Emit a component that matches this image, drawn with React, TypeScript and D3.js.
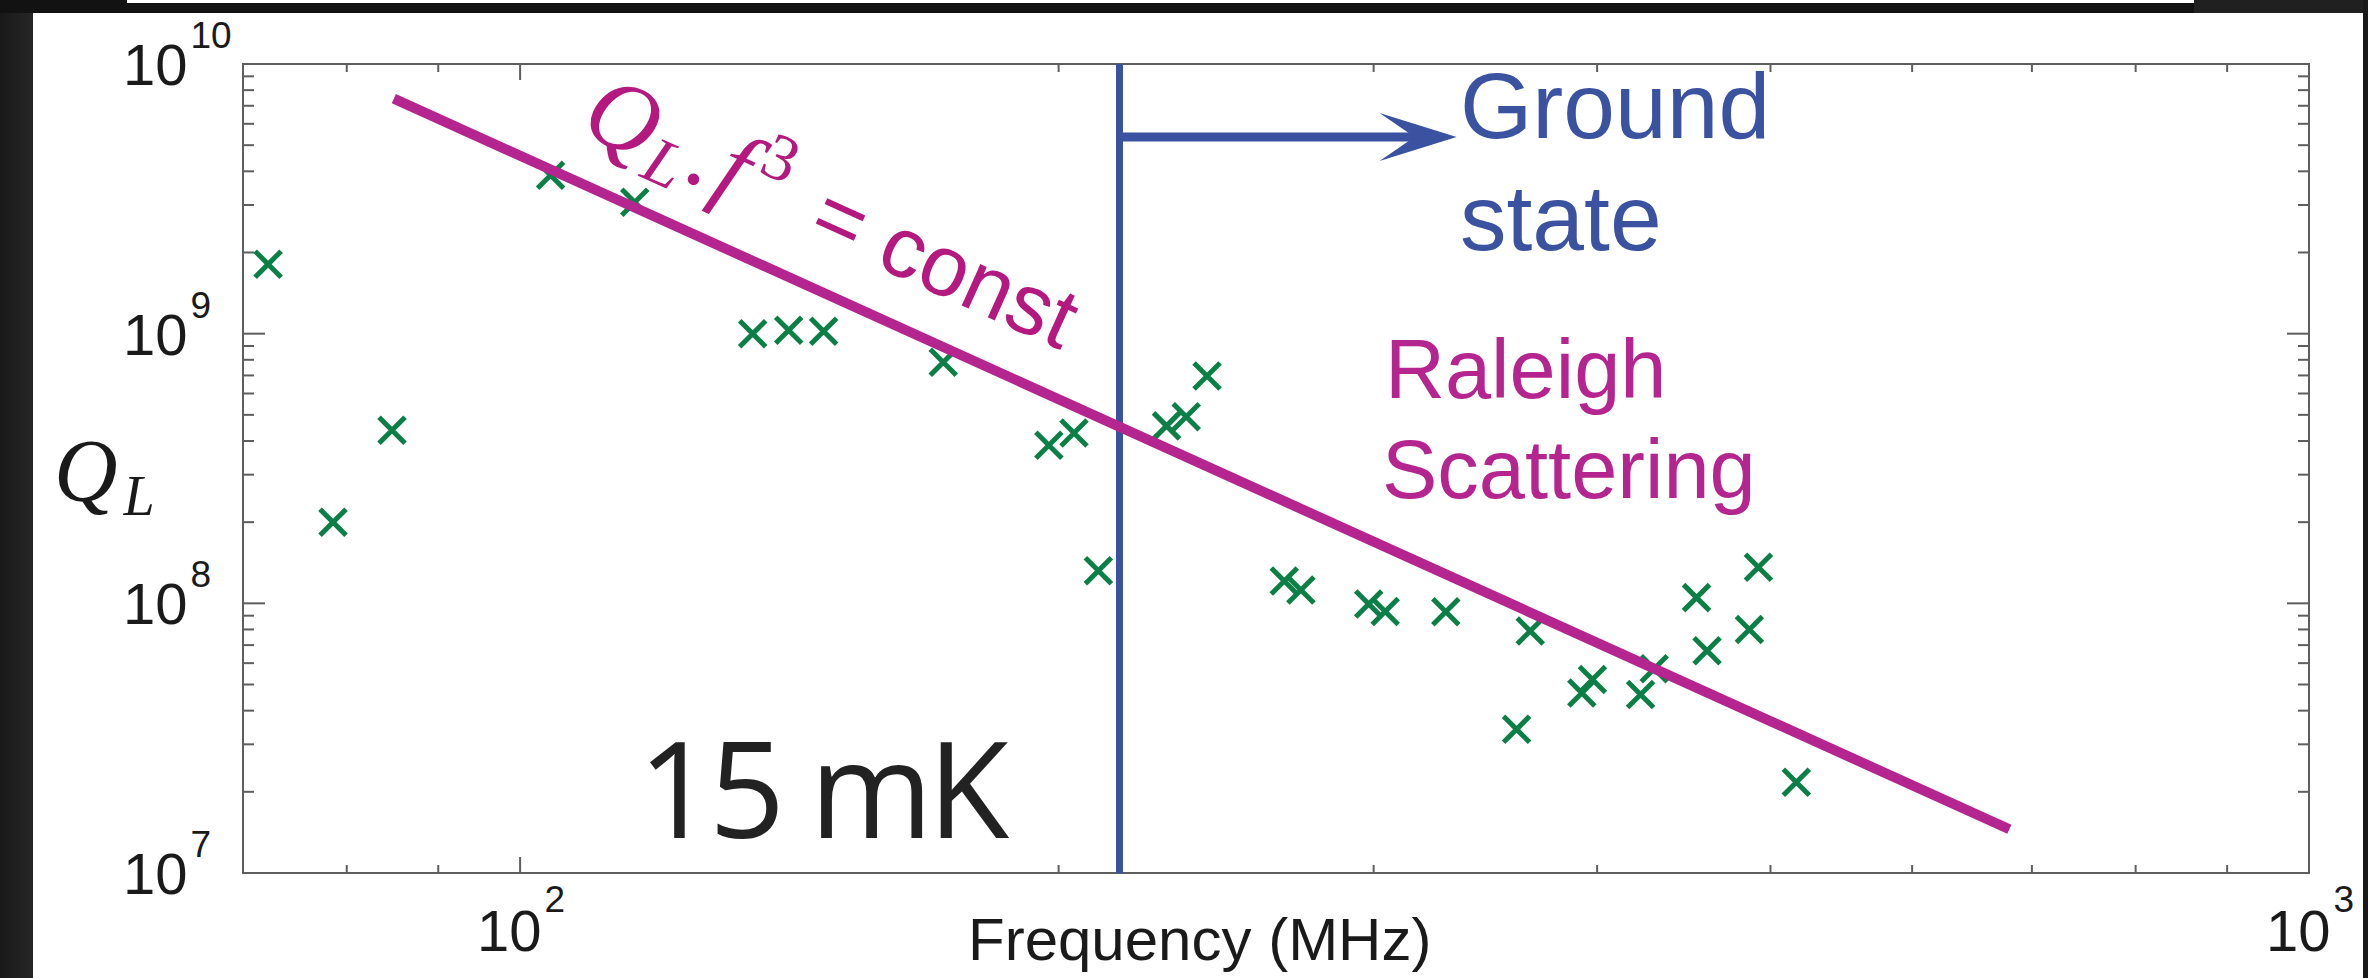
import { useEffect, useRef } from 'react'
import * as d3 from 'd3'

// measured resonators: frequency (MHz) and loaded quality factor
const freqMHz = [72.3, 78.6, 84.8, 104, 115.9, 134.9, 141.3, 147.8, 172.4, 197.5, 204, 210.5, 229.8, 235.7, 242.1, 267.4, 273.2, 298.1, 304.5, 329.2, 360.6, 367, 392.2, 397.6, 423, 430.5, 454.6, 460.8, 486.6, 492.3, 516.9]
const qLoaded = [1.81e9, 2.0e8, 4.38e8, 3.87e9, 3.07e9, 1.0e9, 1.03e9, 1.02e9, 7.83e8, 3.86e8, 4.28e8, 1.32e8, 4.55e8, 4.92e8, 6.97e8, 1.21e8, 1.12e8, 9.95e7, 9.33e7, 9.3e7, 3.41e7, 7.89e7, 4.65e7, 5.22e7, 4.59e7, 5.72e7, 1.05e8, 6.67e7, 8.0e7, 1.36e8, 2.17e7]

// Q_L * f^3 = const guide line
const fitFreqs = [85, 680]
const fitConst = 4.57e15

// ground state boundary and arrow
const groundFreq = 216.3
const arrowQ = 5.36e9
const arrowTipFreq = 333.8

const xDomain = [70, 1000]
const yDomain = [1e7, 1e10]
const xLabelExps = [2, 3]
const yLabelExps = [7, 8, 9, 10]

const GREEN = '#0b7f45'
const MAGENTA = '#b5258f'
const BLUE = '#3a52a0'
const SANS = '"Liberation Sans", Arial, Helvetica, sans-serif'
const SERIF = '"Liberation Serif", "Times New Roman", serif'

export default function App() {
  const ref = useRef<SVGSVGElement>(null)

  useEffect(() => {
    if (!ref.current) return
    const svg = d3.select(ref.current)
    svg.selectAll('*').remove()

    const W = 2368
    const H = 978
    const margin = { top: 64, right: 59, bottom: 105, left: 243 }
    const x0 = margin.left, x1 = W - margin.right
    const y0 = H - margin.bottom, y1 = margin.top

    const x = d3.scaleLog().domain(xDomain).range([x0, x1])
    const y = d3.scaleLog().domain(yDomain).range([y0, y1])

    // page + dark screen frame
    svg.append('rect').attr('width', W).attr('height', H).attr('fill', '#fff')
    const grad = svg.append('defs').append('linearGradient').attr('id', 'side')
    grad.append('stop').attr('offset', '0%').attr('stop-color', '#191919')
    grad.append('stop').attr('offset', '100%').attr('stop-color', '#262626')
    svg.append('rect').attr('x', 0).attr('y', 0).attr('width', 33).attr('height', H).attr('fill', 'url(#side)')
    svg.append('rect').attr('x', 0).attr('y', 0).attr('width', W).attr('height', 13).attr('fill', '#121212')
    svg.append('rect').attr('x', 127).attr('y', 0).attr('width', 2194 - 127).attr('height', 3).attr('fill', '#fff')
    svg.append('rect').attr('x', 2194).attr('y', 0).attr('width', W - 2194).attr('height', 13).attr('fill', '#202020')
    svg.append('rect').attr('x', 2363).attr('y', 0).attr('width', 5).attr('height', H).attr('fill', '#1a1a1a')

    // ticks on all four sides
    const axisColor = '#5e5e5e'
    const ticks = svg.append('g').attr('stroke', axisColor).attr('stroke-width', 2)
    const isMajor = (v: number) => Math.abs(Math.log10(v) - Math.round(Math.log10(v))) < 1e-6
    x.ticks().forEach(v => {
      const len = isMajor(v) ? 16 : 8
      const px = x(v)
      ticks.append('line').attr('x1', px).attr('x2', px).attr('y1', y0).attr('y2', y0 - len)
      ticks.append('line').attr('x1', px).attr('x2', px).attr('y1', y1).attr('y2', y1 + len)
    })
    y.ticks().forEach(v => {
      const len = isMajor(v) ? 22 : 11
      const py = y(v)
      ticks.append('line').attr('x1', x0).attr('x2', x0 + len).attr('y1', py).attr('y2', py)
      ticks.append('line').attr('x1', x1).attr('x2', x1 - len).attr('y1', py).attr('y2', py)
    })
    svg.append('rect')
      .attr('x', x0).attr('y', y1).attr('width', x1 - x0).attr('height', y0 - y1)
      .attr('fill', 'none').attr('stroke', axisColor).attr('stroke-width', 2)

    // tick labels
    yLabelExps.forEach(e => {
      const t = svg.append('text')
        .attr('x', 123).attr('y', y(Math.pow(10, e)) + 21)
        .style('font-family', SANS).style('font-size', '58px').attr('fill', '#1a1a1a')
      t.append('tspan').text('10')
      t.append('tspan').attr('dy', -37).attr('dx', 3).style('font-size', '37px').text(String(e))
    })
    xLabelExps.forEach(e => {
      const t = svg.append('text')
        .attr('x', x(Math.pow(10, e)) + 1).attr('y', 951)
        .attr('text-anchor', 'middle')
        .style('font-family', SANS).style('font-size', '58px').attr('fill', '#1a1a1a')
      t.append('tspan').text('10')
      t.append('tspan').attr('dy', -39).attr('dx', 3).style('font-size', '37px').text(String(e))
    })

    // axis labels
    svg.append('text')
      .attr('x', 968).attr('y', 960)
      .style('font-family', SANS).style('font-size', '60px').attr('fill', '#1a1a1a')
      .text('Frequency (MHz)')
    const yl = svg.append('text')
      .attr('x', 54).attr('y', 500)
      .style('font-family', SERIF).style('font-style', 'italic').style('font-size', '88px').attr('fill', '#1a1a1a')
    yl.append('tspan').text('Q')
    yl.append('tspan').attr('dy', 15).attr('dx', 6).style('font-size', '56px').text('L')

    // data markers
    const s = 13
    svg.append('g')
      .selectAll('path')
      .data(freqMHz.map((f, i) => [f, qLoaded[i]]))
      .join('path')
      .attr('d', d => `M${x(d[0]) - s},${y(d[1]) - s}L${x(d[0]) + s},${y(d[1]) + s}M${x(d[0]) - s},${y(d[1]) + s}L${x(d[0]) + s},${y(d[1]) - s}`)
      .attr('stroke', GREEN).attr('stroke-width', 5).attr('fill', 'none')

    // ground state line + arrow
    svg.append('line')
      .attr('x1', x(groundFreq)).attr('x2', x(groundFreq)).attr('y1', y1).attr('y2', y0)
      .attr('stroke', BLUE).attr('stroke-width', 7)
    const ay = y(arrowQ)
    const tip = x(arrowTipFreq)
    svg.append('line')
      .attr('x1', x(groundFreq)).attr('x2', tip - 40).attr('y1', ay).attr('y2', ay)
      .attr('stroke', BLUE).attr('stroke-width', 9)
    svg.append('path')
      .attr('d', `M${tip},${ay}L${tip - 77},${ay - 24}L${tip - 42},${ay}L${tip - 77},${ay + 24}Z`)
      .attr('fill', BLUE)

    // Q_L f^3 = const line
    const line = d3.line<number>().x(f => x(f)).y(f => y(fitConst / Math.pow(f, 3)))
    svg.append('path')
      .attr('d', line(fitFreqs))
      .attr('stroke', MAGENTA).attr('stroke-width', 10).attr('fill', 'none')

    // rotated label along the line
    const ang = Math.atan2(
      y(fitConst / Math.pow(fitFreqs[1], 3)) - y(fitConst / Math.pow(fitFreqs[0], 3)),
      x(fitFreqs[1]) - x(fitFreqs[0])) * 180 / Math.PI
    const lab = svg.append('text')
      .attr('transform', `translate(578,132) rotate(${ang})`)
      .attr('fill', '#b3197f')
      .style('font-size', '98px')
    lab.append('tspan').style('font-family', SERIF).style('font-style', 'italic').text('Q')
    lab.append('tspan').attr('dy', 15).attr('dx', 2).style('font-family', SERIF).style('font-style', 'italic').style('font-size', '66px').text('L')
    lab.append('tspan').attr('dy', -15).attr('dx', 3).style('font-family', SERIF).text('.')
    lab.append('tspan').attr('dx', 7).style('font-family', SERIF).style('font-style', 'italic').text('f')
    lab.append('tspan').attr('dy', -38).attr('dx', 8).style('font-family', SERIF).style('font-size', '66px').text('3')
    lab.append('tspan').attr('dy', 38).attr('dx', 14).style('font-family', SANS).style('font-size', '86px').text(' = const')

    // annotations
    const gs = svg.append('text').style('font-family', SANS).style('font-size', '93px').attr('fill', BLUE)
    gs.append('tspan').attr('x', 1460).attr('y', 138).text('Ground')
    gs.append('tspan').attr('x', 1460).attr('y', 250).text('state')
    const rs = svg.append('text').style('font-family', SANS).style('font-size', '83px').attr('fill', MAGENTA)
    rs.append('tspan').attr('x', 1385).attr('y', 398).text('Raleigh')
    rs.append('tspan').attr('x', 1382).attr('y', 498).text('Scattering')

    svg.append('text')
      .attr('x', 638).attr('y', 838)
      .style('font-family', '"Open Sans", sans-serif').style('font-size', '133px')
      .style('letter-spacing', '-5px').attr('fill', '#222')
      .text('15 mK')
  }, [])

  return <svg ref={ref} width={2368} height={978} style={{ position: 'absolute', left: 0, top: 0, display: 'block' }} />
}
